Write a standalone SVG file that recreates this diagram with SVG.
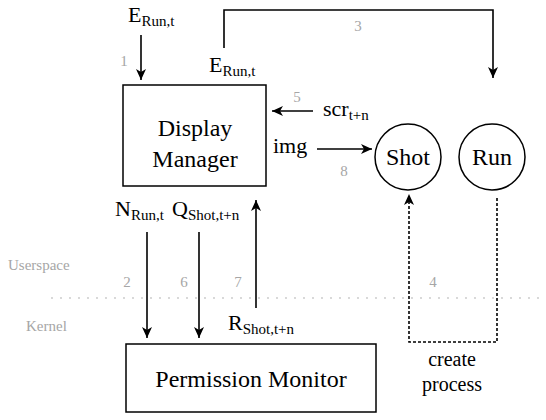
<svg xmlns="http://www.w3.org/2000/svg" width="546" height="420" viewBox="0 0 546 420">
<style>
text{font-family:"Liberation Serif","Times New Roman",Times,Tinos,"Nimbus Roman","Nimbus Roman No9 L",FreeSerif,"Noto Serif","DejaVu Serif",Georgia,serif}
.lbl{fill:#000}
.big{font-size:24px}
.lab{font-size:22px}
.sub{font-size:15px}
.num{font-size:15px;fill:#a6a6a6;text-anchor:middle}
.gry{font-size:15px;fill:#a6a6a6}
.box{fill:#fff;stroke:#000;stroke-width:1.5}
.ar{fill:none;stroke:#000;stroke-width:1.6;marker-end:url(#ah)}
.dash{fill:none;stroke:#000;stroke-width:1.6;stroke-dasharray:3 2;marker-end:url(#ah)}
</style>
<defs>
<marker id="ah" markerUnits="userSpaceOnUse" markerWidth="12" markerHeight="10" refX="11" refY="5" orient="auto">
<path d="M0,0 L11,5 L0,10 L3,5 z" fill="#000"/>
</marker>
</defs>
<rect width="546" height="420" fill="#fff"/>
<line x1="52" y1="298" x2="546" y2="298" stroke="#a6a6a6" stroke-width="1.6" stroke-linecap="round" stroke-dasharray="0 9"/>
<text class="gry" x="8" y="270">Userspace</text>
<text class="gry" x="26" y="331">Kernel</text>
<g id="connectors">
<path class="ar" d="M141,35 V80"/>
<path class="ar" d="M224,48 V10 H493 V78"/>
<path class="ar" d="M313,111 H272"/>
<path class="ar" d="M317,149 H372"/>
<path class="ar" d="M147,232 V338"/>
<path class="ar" d="M199,232 V338"/>
<path class="ar" d="M256,308 V200"/>
<path class="dash" d="M497,198 V342 H409 V194"/>
</g>
<g id="display-manager">
<rect class="box" x="123" y="85" width="143" height="101"/>
<text class="lbl big" x="195" y="136" text-anchor="middle">Display</text>
<text class="lbl big" x="195" y="167" text-anchor="middle">Manager</text>
</g>
<g id="permission-monitor">
<rect class="box" x="126" y="344" width="250" height="68"/>
<text class="lbl big" x="251" y="387" text-anchor="middle">Permission Monitor</text>
</g>
<g id="shot">
<circle class="box" cx="408" cy="157" r="33"/>
<text class="lbl big" x="408" y="165" text-anchor="middle">Shot</text>
</g>
<g id="run">
<circle class="box" cx="492" cy="157" r="33"/>
<text class="lbl big" x="492" y="165" text-anchor="middle">Run</text>
</g>
<g id="labels">
<text class="lbl lab" x="128" y="22">E<tspan class="sub" dy="4">Run,t</tspan></text>
<text class="lbl lab" x="209" y="72">E<tspan class="sub" dy="4">Run,t</tspan></text>
<text class="lbl lab" x="323" y="116">scr<tspan class="sub" dy="4">t+n</tspan></text>
<text class="lbl lab" x="273" y="153">img</text>
<text class="lbl lab" x="115" y="216">N<tspan class="sub" dy="4">Run,t</tspan></text>
<text class="lbl lab" x="172" y="216">Q<tspan class="sub" dy="4">Shot,t+n</tspan></text>
<text class="lbl lab" x="228" y="330">R<tspan class="sub" dy="4">Shot,t+n</tspan></text>
<text class="lbl" x="452" y="366" text-anchor="middle" style="font-size:20px">create</text>
<text class="lbl" x="452" y="391" text-anchor="middle" style="font-size:20px">process</text>
<text class="num" x="124" y="66">1</text>
<text class="num" x="358" y="31">3</text>
<text class="num" x="297" y="102">5</text>
<text class="num" x="344" y="176">8</text>
<text class="num" x="127" y="287">2</text>
<text class="num" x="184" y="287">6</text>
<text class="num" x="238" y="287">7</text>
<text class="num" x="433" y="287">4</text>
</g>
</svg>
